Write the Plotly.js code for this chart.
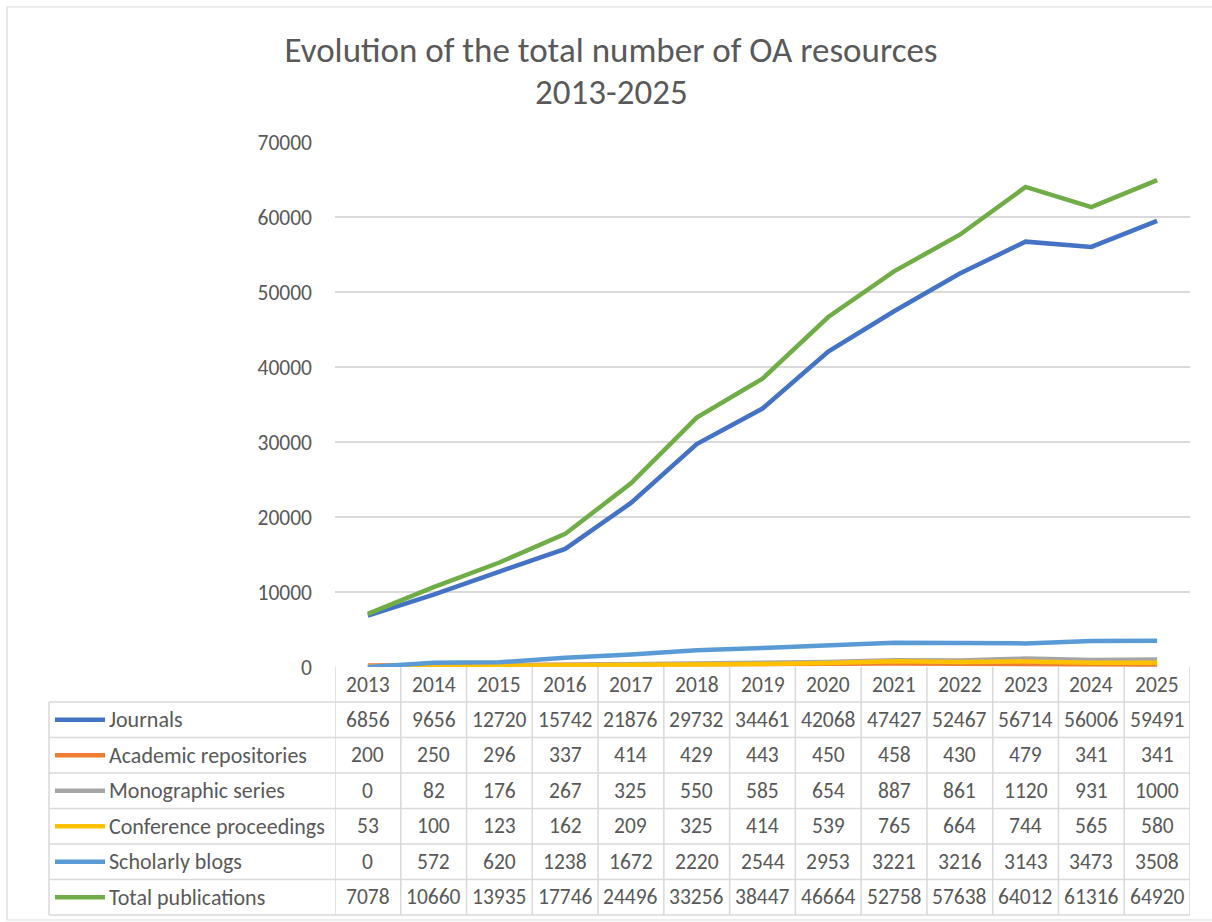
<!DOCTYPE html>
<html>
<head>
<meta charset="utf-8">
<script src="https://cdn.plot.ly/plotly-3.0.1.min.js"></script>
<style>
  html, body { margin: 0; padding: 0; background: #ffffff; }
  #chart { width: 1212px; height: 922px; }
</style>
</head>
<body>
<div id="chart"></div>
<script>
// ---- data ----
const years = ["2013","2014","2015","2016","2017","2018","2019","2020","2021","2022","2023","2024","2025"];
const seriesNames = ["Journals","Academic repositories","Monographic series","Conference proceedings","Scholarly blogs","Total publications"];
const journals     = [6856, 9656, 12720, 15742, 21876, 29732, 34461, 42068, 47427, 52467, 56714, 56006, 59491];
const repositories = [200, 250, 296, 337, 414, 429, 443, 450, 458, 430, 479, 341, 341];
const monographic  = [0, 82, 176, 267, 325, 550, 585, 654, 887, 861, 1120, 931, 1000];
const conference   = [53, 100, 123, 162, 209, 325, 414, 539, 765, 664, 744, 565, 580];
const blogs        = [0, 572, 620, 1238, 1672, 2220, 2544, 2953, 3221, 3216, 3143, 3473, 3508];
const totals       = [7078, 10660, 13935, 17746, 24496, 33256, 38447, 46664, 52758, 57638, 64012, 61316, 64920];
const seriesColors = ["#4472C4","#ED7D31","#A5A5A5","#FFC000","#5B9BD5","#70AD47"];
const allSeries = [journals, repositories, monographic, conference, blogs, totals];

// ---- geometry (pixels) ----
const W = 1212, H = 922;
const plotL = 335, plotR = 1190, plotT = 142, plotB = 667;
const plotW = plotR - plotL, plotH = plotB - plotT;
const px = X => (X - plotL) / plotW;         // pixel x -> paper x
const py = Y => (plotB - Y) / plotH;         // pixel y -> paper y
const tableLeft = 49, headerBottom = 702, tableBottom = 915;
const rowH = (tableBottom - headerBottom) / seriesNames.length;

const txtColor = "#595959";
const gridColor = "#d9d9d9";
const FONT = "Carlito, Calibri, Lato, sans-serif";
const FS = 22, FSN = 21.5, FST = 35;

const traces = allSeries.map((vals, i) => ({
  type: "scatter",
  mode: "lines",
  x: years,
  y: vals,
  name: seriesNames[i],
  line: { color: seriesColors[i], width: 4.5 },
  hoverinfo: "x+y+name"
}));

const shapes = [];
const annotations = [];

// outer chart border
shapes.push({ type: "rect", xref: "paper", yref: "paper",
  x0: px(7), x1: px(1230), y0: py(7), y1: py(920),
  line: { color: gridColor, width: 1.2 }, fillcolor: "rgba(0,0,0,0)", layer: "below" });

// table: vertical lines at column boundaries
for (let i = 0; i <= years.length; i++) {
  shapes.push({ type: "line", xref: "x", yref: "paper",
    x0: i - 0.5, x1: i - 0.5, y0: 0, y1: py(tableBottom),
    line: { color: gridColor, width: 1.5 } });
}
// left border of table rows
shapes.push({ type: "line", xref: "paper", yref: "paper",
  x0: px(tableLeft), x1: px(tableLeft), y0: py(headerBottom), y1: py(tableBottom),
  line: { color: gridColor, width: 1.5 } });
// horizontal lines
for (let r = 0; r <= seriesNames.length; r++) {
  const Y = headerBottom + r * rowH;
  shapes.push({ type: "line", xref: "paper", yref: "paper",
    x0: px(tableLeft), x1: 1, y0: py(Y), y1: py(Y),
    line: { color: gridColor, width: 1.5 } });
}

// header years
years.forEach((yr, i) => {
  annotations.push({ xref: "x", yref: "paper", x: i, y: py((plotB + headerBottom) / 2),
    text: yr, showarrow: false, xanchor: "center", yanchor: "middle",
    font: { family: FONT, size: FSN, color: txtColor } });
});

// rows
seriesNames.forEach((nm, r) => {
  const Yc = headerBottom + (r + 0.5) * rowH;
  // legend key
  shapes.push({ type: "line", xref: "paper", yref: "paper",
    x0: px(55), x1: px(105), y0: py(Yc), y1: py(Yc),
    line: { color: seriesColors[r], width: 4.5 } });
  annotations.push({ xref: "paper", yref: "paper", x: px(107), y: py(Yc),
    text: nm, showarrow: false, xanchor: "left", yanchor: "middle",
    font: { family: FONT, size: FS, color: txtColor } });
  allSeries[r].forEach((v, i) => {
    annotations.push({ xref: "x", yref: "paper", x: i, y: py(Yc),
      text: String(v), showarrow: false, xanchor: "center", yanchor: "middle",
      font: { family: FONT, size: FSN, color: txtColor } });
  });
});

// second title line
annotations.push({ xref: "paper", yref: "paper", x: px(611), y: py(92),
  text: "2013-2025", showarrow: false, xanchor: "center", yanchor: "middle",
  font: { family: FONT, size: FST, color: txtColor } });

const layout = {
  width: W, height: H,
  margin: { l: plotL, r: W - plotR, t: plotT, b: H - plotB, pad: 0 },
  paper_bgcolor: "#ffffff",
  plot_bgcolor: "#ffffff",
  showlegend: false,
  title: { text: "Evolution of the total number of OA resources",
    x: 611 / W, xanchor: "center", y: 1 - 50 / H, yanchor: "middle",
    font: { family: FONT, size: FST, color: txtColor } },
  xaxis: { type: "category", range: [-0.5, years.length - 0.5],
    showgrid: false, showline: false, zeroline: false, showticklabels: false, ticks: "", fixedrange: true },
  yaxis: { range: [0, 70000], dtick: 10000, tick0: 0, tickformat: "d",
    showgrid: true, gridcolor: gridColor, gridwidth: 1.5,
    zeroline: false, showline: false, ticks: "",
    ticklabelstandoff: 22,
    tickfont: { family: FONT, size: FSN, color: txtColor }, fixedrange: true },
  shapes: shapes,
  annotations: annotations,
  font: { family: FONT, color: txtColor }
};

Plotly.newPlot("chart", traces, layout, { displayModeBar: false, staticPlot: true });
</script>
</body>
</html>
